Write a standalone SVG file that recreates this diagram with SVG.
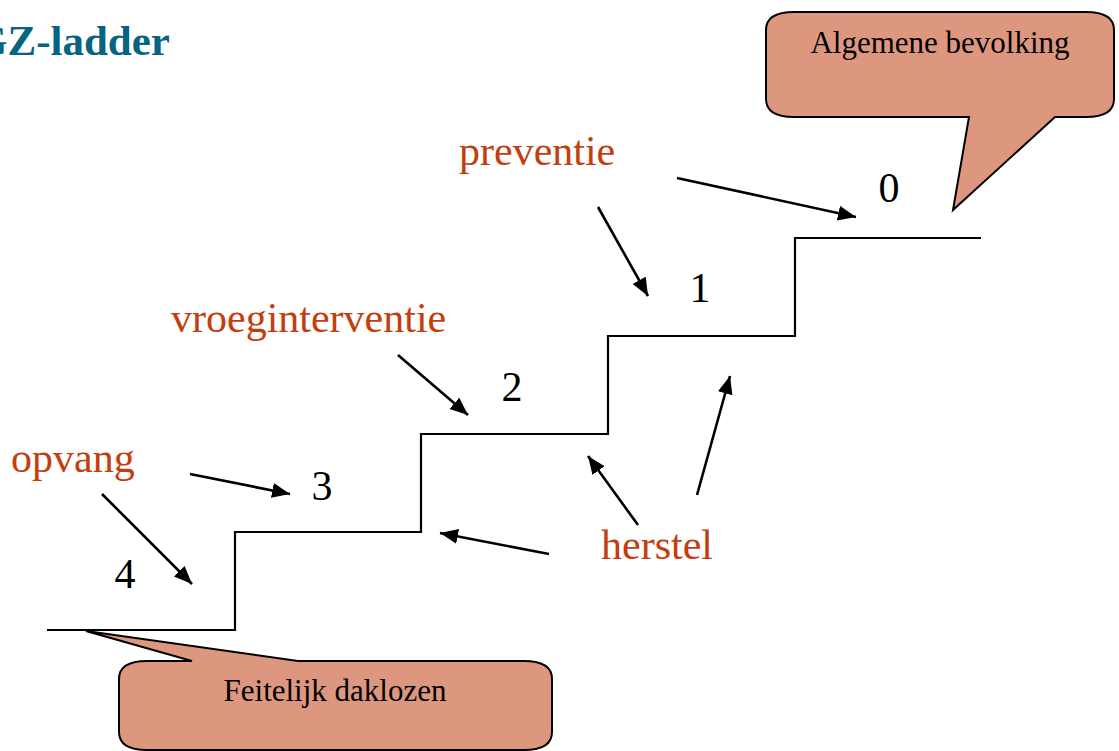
<svg xmlns="http://www.w3.org/2000/svg" width="1119" height="751" viewBox="0 0 1119 751">
<style>
.title{font-family:"Liberation Serif","Times New Roman",serif;font-weight:bold;font-size:43px;fill:#046482}
.red{font-family:"Liberation Serif","Times New Roman",serif;font-size:42px;fill:#C43D0E}
.num{font-family:"Liberation Serif","Times New Roman",serif;font-size:42px;fill:#000;text-anchor:middle}
.call{fill:#DE977F;stroke:#000;stroke-width:2;stroke-linejoin:miter}
.ctext{font-family:"Liberation Serif","Times New Roman",serif;font-size:31px;fill:#000;text-anchor:middle}
.stair{fill:none;stroke:#000;stroke-width:2.2}
.arr{stroke:#000;stroke-width:2.6;fill:none;marker-end:url(#ah)}
</style>
<defs>
<marker id="ah" markerUnits="userSpaceOnUse" markerWidth="20" markerHeight="17" refX="18" refY="7.5" orient="auto">
<path d="M0,0 L18,7.5 L0,15 z" fill="#000"/>
</marker>
</defs>
<rect width="1119" height="751" fill="#fff"/>
<text class="title" x="-26" y="55">GZ-ladder</text>

<g id="stairs">
<path class="stair" d="M47,630 H235 V532 H421 V434 H608 V336 H795 V238 H981"/>
</g>

<g id="callout-algemeen">
<path class="call" d="M794,12 H1086 Q1114,12 1114,30 V99 Q1114,117 1086,117 H1055 L953,210 L969,117 H794 Q766,117 766,99 V30 Q766,12 794,12 Z"/>
<text class="ctext" x="940" y="53">Algemene bevolking</text>
</g>

<g id="callout-dakloos">
<path class="call" d="M147,661 H192 L86,631 L298,661 H524 Q552,661 552,679 V732 Q552,750 524,750 H147 Q119,750 119,732 V679 Q119,661 147,661 Z"/>
<text class="ctext" x="335" y="701">Feitelijk daklozen</text>
</g>

<g id="label-preventie"><text class="red" x="459" y="165">preventie</text></g>
<g id="label-vroeg"><text class="red" x="171" y="332">vroeginterventie</text></g>
<g id="label-opvang"><text class="red" x="11" y="472">opvang</text></g>
<g id="label-herstel"><text class="red" x="601" y="559">herstel</text></g>

<g id="step0"><text class="num" x="889" y="202">0</text></g>
<g id="step1"><text class="num" x="700" y="302">1</text></g>
<g id="step2"><text class="num" x="512" y="401">2</text></g>
<g id="step3"><text class="num" x="322" y="500">3</text></g>
<g id="step4"><text class="num" x="125" y="588">4</text></g>

<g id="connectors">
<line class="arr" x1="677" y1="178" x2="856" y2="217"/>
<line class="arr" x1="598" y1="207" x2="648" y2="296"/>
<line class="arr" x1="398" y1="355" x2="468" y2="415"/>
<line class="arr" x1="190" y1="474" x2="290" y2="494"/>
<line class="arr" x1="102" y1="494" x2="192" y2="584"/>
<line class="arr" x1="549" y1="554" x2="440" y2="533"/>
<line class="arr" x1="638" y1="525" x2="588" y2="456"/>
<line class="arr" x1="697" y1="495" x2="730" y2="376"/>
</g>
</svg>
